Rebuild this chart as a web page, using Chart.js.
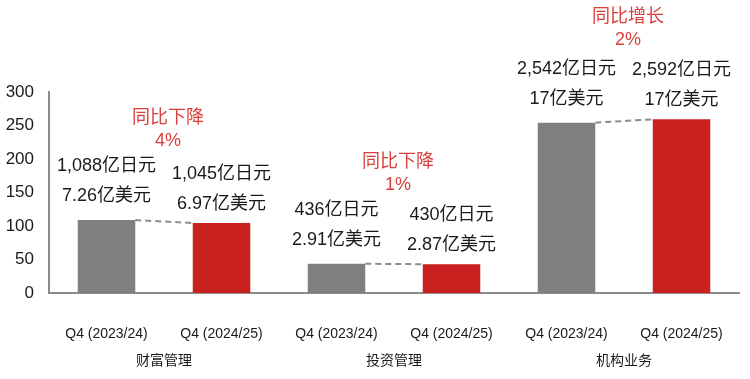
<!DOCTYPE html>
<html>
<head>
<meta charset="utf-8">
<script src="https://cdn.jsdelivr.net/npm/chart.js@4/dist/chart.umd.min.js"></script>
<style>
  html, body { margin: 0; padding: 0; background: #fff; }
  #wrap { width: 750px; height: 379px; }
</style>
</head>
<body>
<div id="wrap"><canvas id="revChart"></canvas></div>
<script>
// bar values (in 10亿日元, i.e. 1,088亿日元 -> 108.8)
const periods = ['Q4 (2023/24)', 'Q4 (2024/25)', 'Q4 (2023/24)', 'Q4 (2024/25)', 'Q4 (2023/24)', 'Q4 (2024/25)'];
const groups = ['财富管理', '投资管理', '机构业务'];
const values = [108.8, 104.5, 43.6, 43.0, 254.2, 259.2];
const jpyLabels = ['1,088亿日元', '1,045亿日元', '436亿日元', '430亿日元', '2,542亿日元', '2,592亿日元'];
const usdLabels = ['7.26亿美元', '6.97亿美元', '2.91亿美元', '2.87亿美元', '17亿美元', '17亿美元'];
const changeLabels = [['同比下降', '4%'], ['同比下降', '1%'], ['同比增长', '2%']];
const yTicks = [0, 50, 100, 150, 200, 250, 300];

const gray = '#7f7f7f';
const red = '#c8211f';
const fontFamily = '"Liberation Sans", Arial, "Noto Sans CJK SC", sans-serif';

// dashed connectors, value/change annotations and group names, placed from the bar elements
const annotate = {
    id: 'annotate',
    afterDatasetsDraw(chart) {
        const ctx = chart.ctx;
        const bars = chart.getDatasetMeta(0).data;
        ctx.save();
        ctx.textAlign = 'center';
        ctx.textBaseline = 'middle';
        for (let g = 0; g < groups.length; g++) {
            const a = bars[g * 2], b = bars[g * 2 + 1];
            ctx.beginPath();
            ctx.setLineDash([6, 4]);
            ctx.strokeStyle = '#8c8c8c';
            ctx.lineWidth = 2;
            ctx.moveTo(a.x + a.width / 2, a.y);
            ctx.lineTo(b.x - b.width / 2, b.y);
            ctx.stroke();
            ctx.setLineDash([]);

            const top = Math.min(a.y, b.y);
            const cx = (a.x + b.x) / 2 + 4;
            ctx.fillStyle = '#d9403c';
            ctx.font = '18px ' + fontFamily;
            ctx.fillText(changeLabels[g][0], cx, top - 102);
            ctx.fillText(changeLabels[g][1], cx, top - 79);

            ctx.fillStyle = '#1a1a1a';
            ctx.font = '14px ' + fontFamily;
            ctx.fillText(groups[g], (a.x + b.x) / 2, chart.chartArea.bottom + 68);
        }
        ctx.fillStyle = '#1a1a1a';
        ctx.font = '18px ' + fontFamily;
        bars.forEach(function (bar, i) {
            const off = i % 2 === 0 ? 0 : 5;
            ctx.fillText(jpyLabels[i], bar.x, bar.y - 54 + off);
            ctx.fillText(usdLabels[i], bar.x, bar.y - 24 + off);
        });
        ctx.restore();
    }
};

new Chart(document.getElementById('revChart'), {
    type: 'bar',
    data: {
        labels: periods,
        datasets: [{
            data: values,
            backgroundColor: values.map(function (v, i) { return i % 2 === 0 ? gray : red; }),
            categoryPercentage: 1,
            barPercentage: 0.5
        }]
    },
    options: {
        responsive: true,
        maintainAspectRatio: false,
        animation: false,
        layout: { padding: { top: 92, left: 6, right: 11, bottom: 0 } },
        plugins: {
            legend: { display: false },
            tooltip: { enabled: false }
        },
        scales: {
            x: {
                grid: { display: false, drawTicks: false },
                border: { color: '#8c8c8c', width: 2 },
                afterFit: function (axis) {
                    axis.height = 86;
                    axis.paddingLeft = 0;
                    axis.paddingRight = 0;
                },
                ticks: {
                    color: '#1a1a1a',
                    font: { family: fontFamily, size: 14 },
                    padding: 33,
                    maxRotation: 0,
                    autoSkip: false
                }
            },
            y: {
                min: 0,
                max: 300,
                afterBuildTicks: function (axis) {
                    axis.ticks = yTicks.map(function (v) { return { value: v }; });
                },
                afterFit: function (axis) { axis.width = 43; },
                grid: { display: false, drawTicks: false },
                border: { color: '#8c8c8c', width: 2 },
                ticks: {
                    color: '#1a1a1a',
                    font: { family: fontFamily, size: 17 },
                    padding: 15
                }
            }
        }
    },
    plugins: [annotate]
});
</script>
</body>
</html>
